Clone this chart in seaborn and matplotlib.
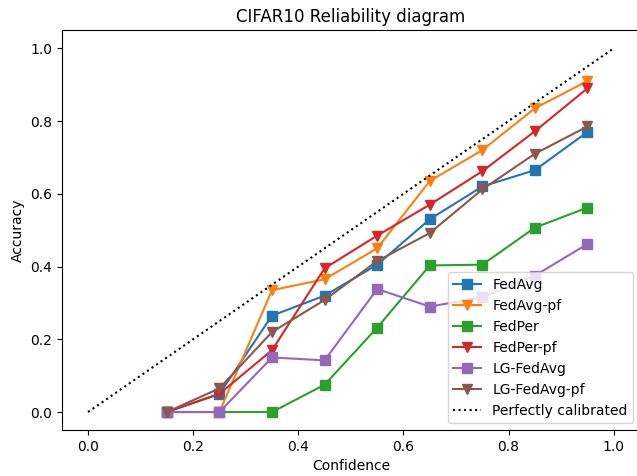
import matplotlib
matplotlib.use("Agg")
import matplotlib.pyplot as plt
import seaborn as sns
import numpy as np

# Bin centres (confidence)
confidence = [0.15, 0.25, 0.35, 0.45, 0.55, 0.65, 0.75, 0.85, 0.95]

# Accuracy per bin
fedavg = [0.0, 0.05, 0.265, 0.32, 0.405, 0.53, 0.62, 0.665, 0.77]
fedavg_pf = [0.0, 0.0, 0.335, 0.365, 0.45, 0.635, 0.72, 0.835, 0.91]
fedper = [0.0, 0.0, 0.0, 0.075, 0.232, 0.403, 0.405, 0.507, 0.562]
fedper_pf = [0.0, 0.05, 0.17, 0.395, 0.485, 0.57, 0.662, 0.772, 0.89]
lg_fedavg = [0.0, 0.0, 0.15, 0.142, 0.338, 0.29, 0.315, 0.375, 0.462]
lg_fedavg_pf = [0.0, 0.065, 0.22, 0.308, 0.415, 0.492, 0.612, 0.71, 0.785]

series = [
    ("FedAvg", fedavg, "s"),
    ("FedAvg-pf", fedavg_pf, "v"),
    ("FedPer", fedper, "s"),
    ("FedPer-pf", fedper_pf, "v"),
    ("LG-FedAvg", lg_fedavg, "s"),
    ("LG-FedAvg-pf", lg_fedavg_pf, "v"),
]
colours = sns.color_palette("tab10", len(series))

fig = plt.figure(figsize=(6.37, 4.76), dpi=100)
# the reference is a tight crop, the right spine falls just outside
ax = fig.add_axes([0.0969, 0.0962, 0.9079, 0.8406])
for (name, acc, mk), c in zip(series, colours):
    sns.lineplot(x=confidence, y=acc, marker=mk, color=c, label=name,
                 markersize=7, markeredgecolor=c, markeredgewidth=1,
                 linewidth=1.5, ax=ax)

sns.lineplot(x=[0, 1], y=[0, 1], color="black", linestyle=":",
             label="Perfectly calibrated", linewidth=1.5, ax=ax)

ax.set_xlim(-0.05, 1.05)
ax.set_ylim(-0.05, 1.05)
ax.set_title("CIFAR10 Reliability diagram")
ax.set_xlabel("Confidence")
ax.set_ylabel("Accuracy")
ax.set_xticks(np.arange(0, 1.01, 0.2))
ax.set_yticks(np.arange(0, 1.01, 0.2))
ax.legend(loc="lower right")
plt.savefig("out.png", dpi=100)
